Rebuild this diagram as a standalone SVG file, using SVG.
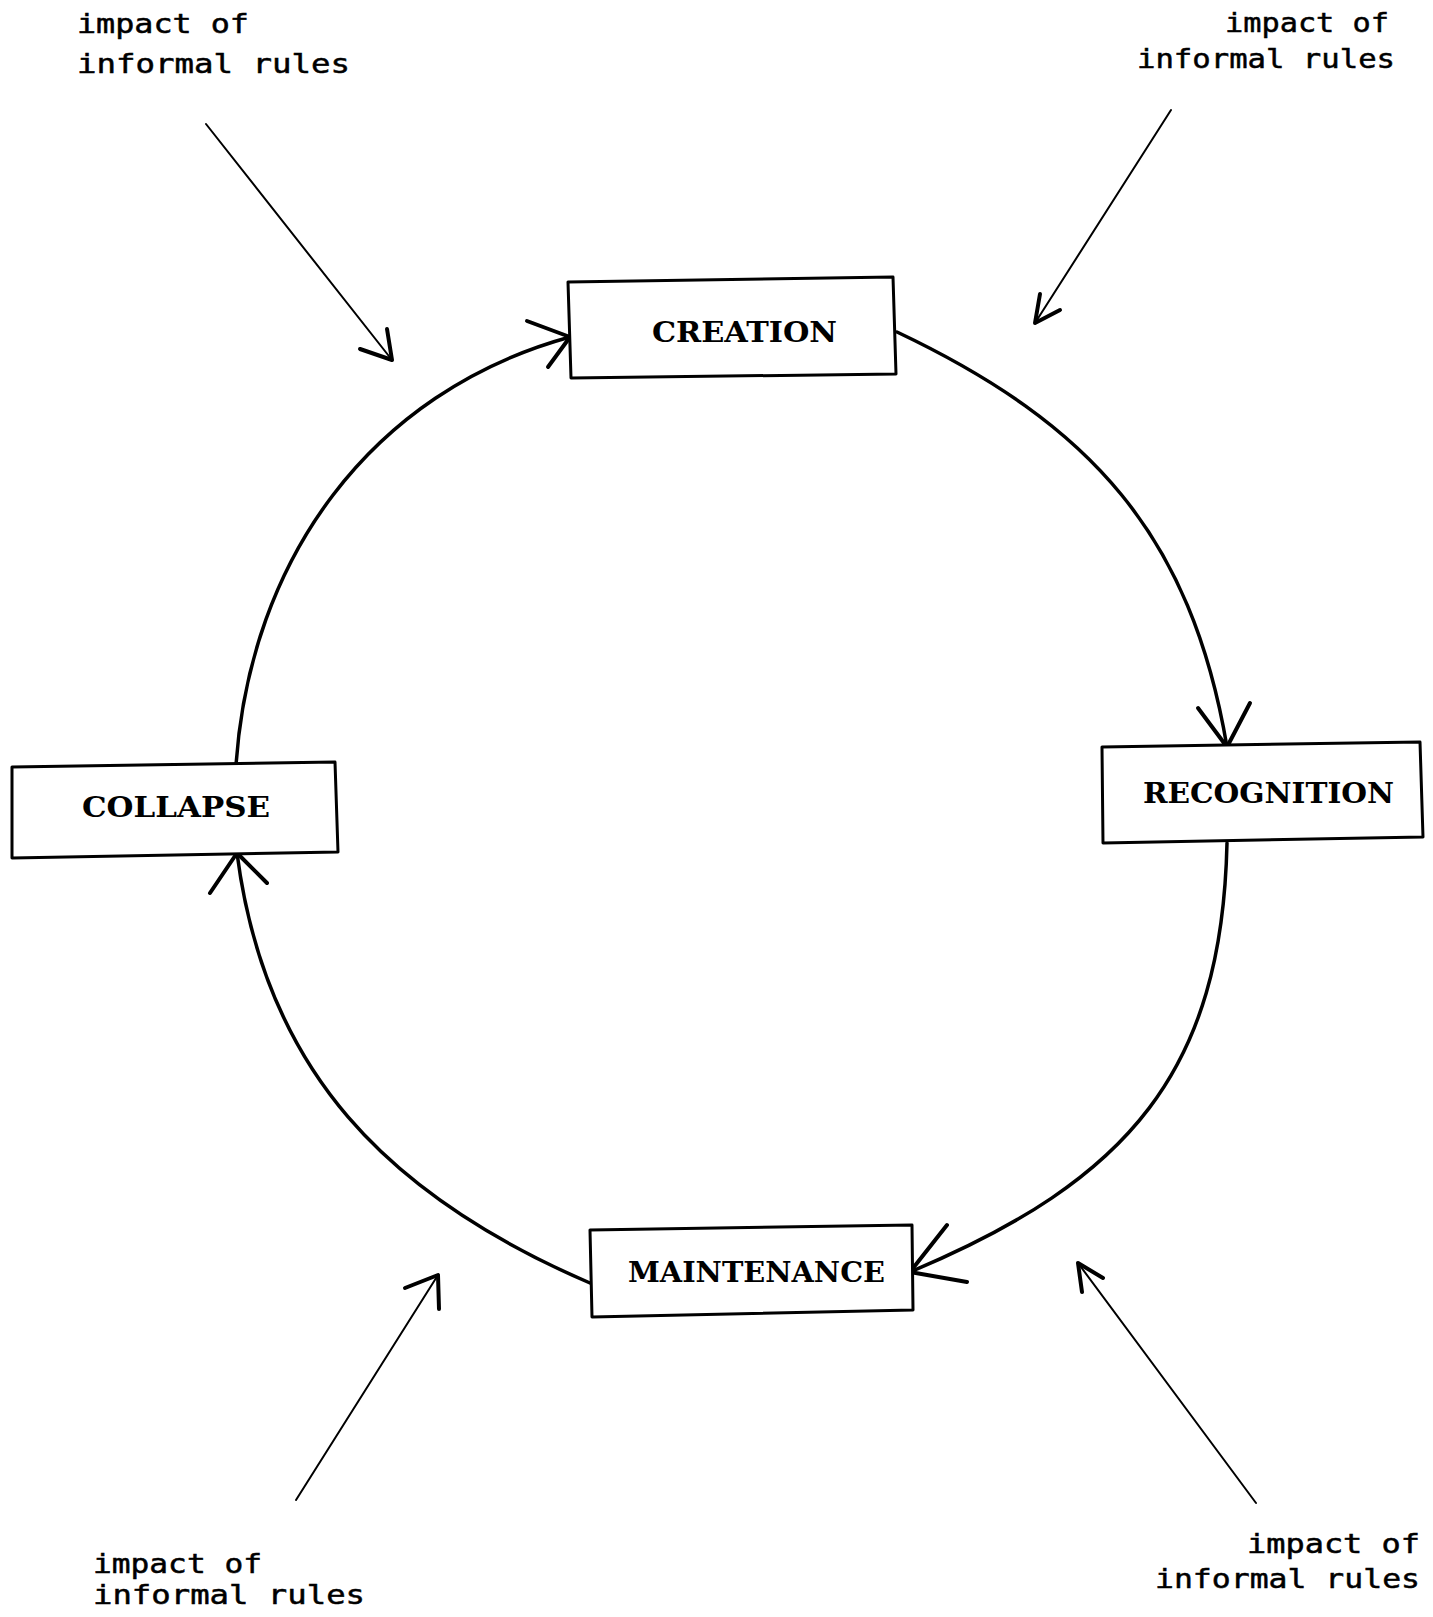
<svg xmlns="http://www.w3.org/2000/svg" width="1433" height="1617" viewBox="0 0 1433 1617">
<style>
.box{fill:#fff;stroke:#000;stroke-width:3;stroke-linejoin:round}
.bt{font-family:"DejaVu Serif","Liberation Serif",serif;font-size:28px;fill:#000;font-weight:bold}
.lb{font-family:"DejaVu Sans Mono","Liberation Mono",monospace;font-size:27px;fill:#000;stroke:#000;stroke-width:0.5}
.arc{fill:none;stroke:#000;stroke-width:3.5;stroke-linecap:round}
.head{fill:none;stroke:#000;stroke-width:4;stroke-linecap:round;stroke-linejoin:round}
.thin{fill:none;stroke:#000;stroke-width:2;stroke-linecap:round}
</style>
<rect width="1433" height="1617" fill="#fff"/>
<g id="connectors">
  <path class="arc" d="M236,765 C250,560 370,392 570,337"/>
  <polyline class="head" points="527,321 570,337 548,367"/>
  <path class="arc" d="M897,332 C1091,424 1191,535 1227,747"/>
  <polyline class="head" points="1198,708 1227,747 1250,703"/>
  <path class="arc" d="M1227,843 C1222,1070 1130,1180 910,1272"/>
  <polyline class="head" points="947,1225 910,1272 967,1282"/>
  <path class="arc" d="M590,1283 C388,1196 265,1071 237,853"/>
  <polyline class="head" points="210,893 237,853 267,883"/>
  <line class="thin" x1="206" y1="124" x2="392" y2="360"/>
  <polyline class="head" points="360,349 392,360 387,329"/>
  <line class="thin" x1="1171" y1="110" x2="1035" y2="323"/>
  <polyline class="head" points="1040,294 1035,323 1060,310"/>
  <line class="thin" x1="296" y1="1500" x2="438" y2="1275"/>
  <polyline class="head" points="405,1288 438,1275 439,1309"/>
  <line class="thin" x1="1256" y1="1503" x2="1078" y2="1263"/>
  <polyline class="head" points="1082,1292 1078,1263 1103,1278"/>
</g>
<g id="creation">
  <polygon class="box" points="568,282 893,277 896,374 571,378"/>
  <text class="bt" x="652" y="342" textLength="185" lengthAdjust="spacingAndGlyphs">CREATION</text>
</g>
<g id="recognition">
  <polygon class="box" points="1102,747 1420,742 1423,837 1103,843"/>
  <text class="bt" x="1143" y="803" textLength="251" lengthAdjust="spacingAndGlyphs">RECOGNITION</text>
</g>
<g id="maintenance">
  <polygon class="box" points="590,1230 912,1225 913,1310 592,1317"/>
  <text class="bt" x="628" y="1282" textLength="257" lengthAdjust="spacingAndGlyphs">MAINTENANCE</text>
</g>
<g id="collapse">
  <polygon class="box" points="12,767 335,762 338,852 12,858"/>
  <text class="bt" x="82" y="817" textLength="188" lengthAdjust="spacingAndGlyphs">COLLAPSE</text>
</g>
<g id="label-tl">
  <text class="lb" x="77" y="33" textLength="172" lengthAdjust="spacingAndGlyphs">impact of</text>
  <text class="lb" x="77" y="73" textLength="273" lengthAdjust="spacingAndGlyphs">informal rules</text>
</g>
<g id="label-tr">
  <text class="lb" x="1225" y="32" textLength="164" lengthAdjust="spacingAndGlyphs">impact of</text>
  <text class="lb" x="1137" y="68" textLength="258" lengthAdjust="spacingAndGlyphs">informal rules</text>
</g>
<g id="label-bl">
  <text class="lb" x="93" y="1573" textLength="169" lengthAdjust="spacingAndGlyphs">impact of</text>
  <text class="lb" x="93" y="1604" textLength="272" lengthAdjust="spacingAndGlyphs">informal rules</text>
</g>
<g id="label-br">
  <text class="lb" x="1247" y="1553" textLength="173" lengthAdjust="spacingAndGlyphs">impact of</text>
  <text class="lb" x="1155" y="1588" textLength="265" lengthAdjust="spacingAndGlyphs">informal rules</text>
</g>
</svg>
